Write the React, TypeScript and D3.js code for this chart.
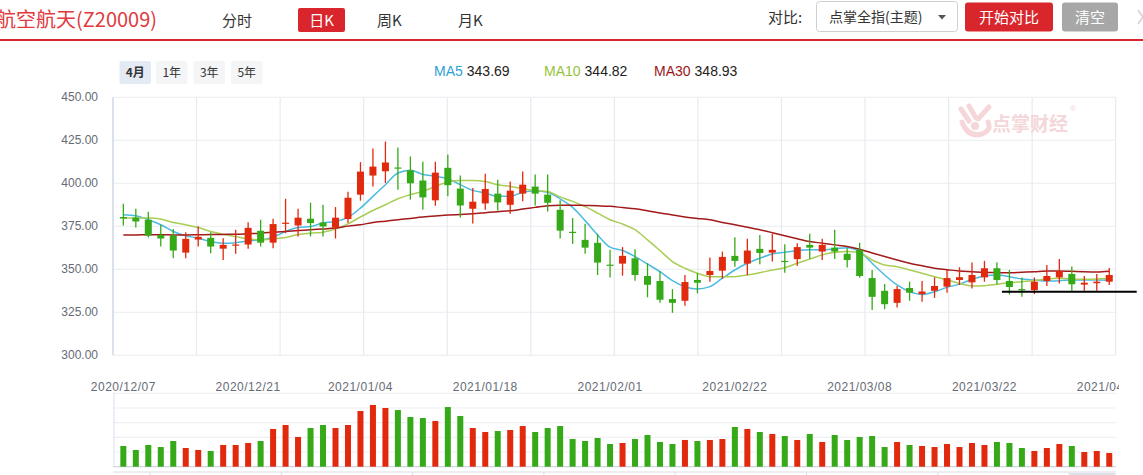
import React from 'react';
import * as d3 from 'd3';

const dates = [
  '2020/12/07','2020/12/08','2020/12/09','2020/12/10','2020/12/11','2020/12/14','2020/12/15','2020/12/16','2020/12/17','2020/12/18',
  '2020/12/21','2020/12/22','2020/12/23','2020/12/24','2020/12/25','2020/12/28','2020/12/29','2020/12/30','2020/12/31',
  '2021/01/04','2021/01/05','2021/01/06','2021/01/07','2021/01/08','2021/01/11','2021/01/12','2021/01/13','2021/01/14','2021/01/15',
  '2021/01/18','2021/01/19','2021/01/20','2021/01/21','2021/01/22','2021/01/25','2021/01/26','2021/01/27','2021/01/28','2021/01/29',
  '2021/02/01','2021/02/02','2021/02/03','2021/02/04','2021/02/05','2021/02/08','2021/02/09','2021/02/10','2021/02/18','2021/02/19',
  '2021/02/22','2021/02/23','2021/02/24','2021/02/25','2021/02/26','2021/03/01','2021/03/02','2021/03/03','2021/03/04','2021/03/05',
  '2021/03/08','2021/03/09','2021/03/10','2021/03/11','2021/03/12','2021/03/15','2021/03/16','2021/03/17','2021/03/18','2021/03/19',
  '2021/03/22','2021/03/23','2021/03/24','2021/03/25','2021/03/26','2021/03/29','2021/03/30','2021/03/31','2021/04/01','2021/04/02',
  '2021/04/06',
];

const openP = [
  380.4,380.0,378.8,370.0,369.6,359.7,367.3,368.3,362.0,364.0,
  364.4,372.4,365.5,376.5,375.5,379.4,377.2,374.3,379.2,393.4,
  404.5,407.0,409.2,407.6,401.6,390.1,409.0,396.9,385.2,388.3,
  394.0,387.5,394.0,398.1,393.4,384.6,371.8,367.1,365.4,352.7,
  353.3,356.4,346.1,343.2,332.7,331.7,343.8,346.7,349.2,357.8,
  353.3,361.9,359.7,354.9,355.9,364.2,360.3,362.6,359.0,361.3,
  344.9,337.5,330.5,339.1,335.6,337.5,339.9,343.8,342.4,345.3,
  350.6,343.2,338.5,337.9,343.2,345.3,347.3,341.1,341.9,342.8,
];
const closeP = [
  379.5,377.8,369.6,367.9,360.9,367.7,368.9,363.2,364.2,364.4,
  374.1,365.5,376.3,377.1,380.0,376.9,374.9,380.0,391.6,406.8,
  409.7,412.1,408.8,400.0,391.8,406.2,398.9,387.1,389.3,396.7,
  388.9,395.7,399.2,394.0,388.7,372.5,371.4,362.6,353.9,352.3,
  357.8,346.7,341.0,332.3,330.5,342.6,342.2,349.0,357.2,354.9,
  360.9,359.5,361.3,354.5,362.9,362.6,364.2,360.3,355.4,346.1,
  334.0,329.7,338.5,336.4,337.1,340.3,344.9,345.4,346.7,350.6,
  343.8,339.7,338.2,342.8,346.1,349.0,341.3,342.2,342.8,346.7,
];
const highP = [
  388.1,385.2,383.5,375.9,373.5,371.6,375.1,371.6,368.1,373.0,
  377.4,378.8,379.4,391.0,385.2,388.7,387.5,386.2,395.1,412.3,
  420.2,424.3,420.8,415.6,412.6,412.6,416.7,404.5,397.3,405.6,
  402.1,401.0,406.8,405.1,405.1,390.1,379.8,376.5,370.6,361.3,
  362.9,361.7,353.5,349.0,338.5,346.7,347.7,356.8,360.3,368.7,
  367.7,370.0,370.6,364.6,365.2,370.6,367.7,373.0,362.3,365.4,
  349.6,341.4,340.3,342.8,343.2,345.3,349.6,351.2,353.9,354.9,
  354.1,349.6,345.3,345.3,352.5,356.0,351.6,346.1,347.3,350.8,
];
const lowP = [
  375.5,374.3,368.5,363.2,356.4,356.4,363.2,359.4,355.4,359.0,
  361.9,363.2,362.3,371.0,369.1,369.1,369.1,367.9,376.9,389.9,
  398.1,400.2,396.3,390.5,384.6,387.0,392.4,380.1,376.6,384.6,
  384.2,382.3,389.5,387.1,383.6,367.9,364.8,359.0,346.7,345.3,
  346.3,343.4,333.7,330.5,324.7,328.8,336.0,342.8,344.5,351.5,
  346.7,352.9,354.5,348.0,352.1,356.0,355.4,356.0,351.0,345.1,
  326.3,326.8,327.8,331.7,331.1,333.4,336.4,340.9,338.9,342.8,
  341.3,335.4,334.0,335.6,340.3,341.8,337.5,337.5,337.5,340.9,
];
const volume = [
  28.2,22.8,29.6,26.8,35.0,25.5,22.8,21.4,29.6,29.6,
  32.3,35.0,51.4,56.8,40.5,52.7,56.8,52.7,56.8,75.9,
  84.1,80.0,77.2,67.7,66.3,62.3,81.3,69.1,52.7,47.3,
  48.6,50.0,55.4,47.3,52.7,55.4,37.7,35.0,39.1,30.9,
  32.3,37.7,43.2,33.7,30.9,36.4,35.0,36.4,37.7,54.1,
  51.4,47.3,44.6,41.8,36.4,44.6,33.7,43.2,36.4,40.5,
  41.8,26.8,33.7,29.6,28.2,26.8,30.9,26.8,32.3,29.6,
  33.7,32.3,25.5,21.4,25.5,30.9,28.2,20.0,21.4,18.7,
];
const ma5 = [
  381.7,381.1,378.8,375.9,372.0,369.5,368.1,366.1,365.2,365.5,
  366.5,367.1,368.7,372.0,374.3,374.9,376.9,377.8,380.2,385.6,
  392.4,399.2,406.0,407.6,405.1,404.1,402.6,399.2,395.9,394.4,
  392.4,392.4,394.8,395.7,394.8,391.0,386.0,378.3,370.0,362.9,
  360.9,357.4,353.1,348.6,343.4,339.9,338.5,339.9,344.8,349.6,
  353.5,356.4,358.9,359.9,360.9,361.3,361.3,361.9,362.6,360.3,
  353.5,346.7,340.9,337.0,335.4,337.0,339.5,341.4,344.2,346.1,
  346.7,345.7,344.4,343.8,343.2,343.4,343.8,343.8,343.8,343.69,
];
const ma10 = [
  379.8,379.8,379.8,379.2,377.2,375.9,374.3,372.0,370.4,369.0,
  367.7,367.1,367.7,368.5,370.2,371.0,371.6,373.4,376.4,380.4,
  384.2,387.5,391.0,393.4,395.3,398.2,400.8,401.6,401.6,401.0,
  399.2,398.2,396.9,395.7,395.3,392.1,389.5,386.4,382.7,378.8,
  376.3,373.0,367.1,360.9,354.5,350.6,347.7,345.7,345.7,345.7,
  346.7,348.0,349.6,350.9,353.5,355.9,358.4,359.7,360.3,359.5,
  355.4,352.5,351.5,349.6,347.7,345.7,343.8,341.8,340.3,340.5,
  341.3,342.2,342.8,343.4,344.4,344.8,344.4,344.2,344.4,344.82,
];
const ma30 = [
  370.0,370.0,370.1,370.1,370.0,370.0,370.1,370.2,370.3,370.4,
  370.7,371.0,371.5,372.0,372.5,373.0,373.5,374.0,375.1,375.9,
  377.2,378.0,378.8,379.6,380.4,381.0,381.5,381.9,382.3,382.9,
  383.5,384.0,385.0,386.0,387.0,387.3,387.3,387.1,386.9,386.6,
  385.9,385.2,384.0,382.7,381.6,380.4,379.6,378.8,377.2,375.9,
  374.5,373.0,371.3,369.5,367.8,366.1,365.2,364.2,363.3,361.7,
  359.5,357.4,355.4,353.5,352.0,350.6,349.8,349.0,348.6,348.2,
  348.1,348.0,348.3,348.6,349.0,349.0,348.8,348.6,348.5,348.93,
];

const priceTicks = [300, 325, 350, 375, 400, 425, 450];
const volTicks = [0, 20, 40, 60, 80, 100];
const dateTicks = ['2020/12/07','2020/12/21','2021/01/04','2021/01/18','2021/02/01','2021/02/22','2021/03/08','2021/03/22','2021/04/06'];
const legendNames = ['MA5', 'MA10', 'MA30'];
const legendValues = ['343.69', '344.82', '348.93'];
const rangeTabs = ['4月', '1年', '3年', '5年'];
const periodTabs = ['分时', '日K', '周K', '月K'];
const supportPrice = 336.9;
const supportFrom = 70.4;
const supportTo = 81.2;

const RED = '#e1290d';
const GREEN = '#35a918';
const BRAND = '#d9262c';
const MA_COLORS = ['#4cbbe2', '#a9cd55', '#a31a1a'];
const MA_TEXT = ['#2f9fd4', '#95c23a', '#9c1418'];
const CJK = '"Noto Sans CJK SC", "Noto Sans", sans-serif';
const NUM = '"Liberation Sans", Arial, sans-serif';
const AXIS_TXT = '#666b75';
const GRID = '#eef0f4';

export default function App() {
  const W = 1143, H = 475;
  const left = 113, right = 1115.7;
  const x = d3.scaleBand<string>().domain(dates).range([117.1, 1115.5]).padding(0);
  const bw = x.bandwidth();
  const cx = (i: number) => (x(dates[0]) as number) + bw / 2 + i * bw;
  const y = d3.scaleLinear().domain([300, 450]).range([355.3, 97.3]);
  const yv = d3.scaleLinear().domain([0, 100]).range([466.7, 393.3]);
  const mkLine = (arr: number[]) =>
    d3.line<number>().x((_, i) => cx(i)).y(d => y(d)).curve(d3.curveMonotoneX)(arr) || '';
  const vgrid = d3.range(13).map(k => left + (k * (right - left)) / 12);
  const sliderTicks = d3.range(8).map(k => 150 + k * 131.3);

  const periodX = [222, 298, 377, 458];
  const rangeX = [119.5, 156, 193.5, 231];
  const legendX = [434, 544, 654];

  return (
    <div style={{ position: 'absolute', left: 0, top: 0 }}>
      <svg width={W} height={H} style={{ display: 'block', background: '#fff' }}>
        <defs>
          <clipPath id="plotClip">
            <rect x={0} y={0} width={1119} height={H} />
          </clipPath>
        </defs>
        {/* Header */}
        <text x={-4} y={27} fontFamily={CJK} fontSize={20} fill="#e03a3e">航空航天(Z20009)</text>
        {periodTabs.map((t, i) => {
          const active = i === 1;
          return (
            <g key={t}>
              {active && <rect x={periodX[i]} y={8} width={47} height={24} rx={2} fill={BRAND} />}
              <text x={active ? periodX[i] + 23.5 : periodX[i]} y={25.5} textAnchor={active ? 'middle' : 'start'}
                fontFamily={CJK} fontSize={15} fill={active ? '#fff' : '#333'}>{t}</text>
            </g>
          );
        })}
        <text x={768} y={23} fontFamily={CJK} fontSize={15} fill="#333">对比:</text>
        <rect x={816.5} y={1.5} width={141} height={30} rx={3} fill="#fff" stroke="#cfcfcf" />
        <text x={829} y={22} fontFamily={CJK} fontSize={14} fill="#333">点掌全指(主题)</text>
        <path d="M938,15 L946,15 L942,19.5 Z" fill="#555" />
        <rect x={965} y={2.5} width={88} height={29} rx={3} fill={BRAND} />
        <text x={1009} y={23} textAnchor="middle" fontFamily={CJK} fontSize={15} fill="#fff">开始对比</text>
        <rect x={1062} y={2.5} width={56} height={29} rx={3} fill="#a7a7a7" />
        <text x={1090} y={23} textAnchor="middle" fontFamily={CJK} fontSize={15} fill="#fff">清空</text>
        <polyline points="1138,10 1143,17 1138,24" fill="none" stroke="#d0d0d0" strokeWidth={1.5} />
        <line x1={0} x2={W} y1={40} y2={40} stroke={BRAND} strokeWidth={2} />

        {/* range tabs */}
        {rangeTabs.map((t, i) => (
          <g key={t}>
            <rect x={rangeX[i]} y={61} width={31.5} height={23} rx={2} fill={i === 0 ? '#e4eaf4' : '#f4f5f7'} />
            <text x={rangeX[i] + 15.75} y={77} textAnchor="middle" fontFamily={CJK} fontSize={12}
              fontWeight={i === 0 ? 700 : 400} fill="#333">{t}</text>
          </g>
        ))}
        {/* legend */}
        {legendNames.map((n, i) => (
          <text key={n} x={legendX[i]} y={76} fontFamily={NUM} fontSize={14}>
            <tspan fill={MA_TEXT[i]}>{n}</tspan>
            <tspan fill="#222" dx={4}>{legendValues[i]}</tspan>
          </text>
        ))}

        {/* main grid */}
        {priceTicks.map(p => (
          <line key={p} x1={left} x2={right} y1={y(p)} y2={y(p)} stroke={GRID} strokeWidth={1.2} />
        ))}
        {vgrid.map((gx, k) => (
          <line key={k} x1={gx} x2={gx} y1={y(450)} y2={y(300)} stroke="#e6eaf1" strokeWidth={1.2} />
        ))}
        <line x1={left} x2={left} y1={y(450)} y2={y(300)} stroke="#cdd5e4" strokeWidth={1.2} />
        {priceTicks.map(p => (
          <text key={p} x={98} y={y(p) + 4} textAnchor="end" fontFamily={NUM} fontSize={12} fill={AXIS_TXT}>
            {p.toFixed(2)}
          </text>
        ))}

        {/* watermark */}
        <g opacity={0.9}>
          <path d="M962,122 Q968,138 982,134 Q992,130 988,122" fill="none" stroke="#f4d3d5" strokeWidth={5} strokeLinecap="round" />
          <line x1={961} x2={969} y1={109} y2={121} stroke="#f4d3d5" strokeWidth={5} strokeLinecap="round" />
          <line x1={969} x2={976} y1={106} y2={118} stroke="#f4d3d5" strokeWidth={5} strokeLinecap="round" />
          <line x1={989} x2={978} y1={107} y2={119} stroke="#f4d3d5" strokeWidth={5} strokeLinecap="round" />
          <circle cx={975} cy={126} r={4} fill="#f4d3d5" />
          <text x={992} y={131} fontFamily={CJK} fontSize={19} fontWeight={700} fill="#f4d3d5">点掌财经</text>
          <text x={1070} y={111} fontFamily={NUM} fontSize={8} fill="#f4d3d5">®</text>
        </g>

        {/* MA lines */}
        {[ma5, ma10, ma30].map((arr, k) => (
          <path key={k} d={mkLine(arr)} fill="none" stroke={MA_COLORS[k]} strokeWidth={1.5} />
        ))}

        {/* candles */}
        {dates.map((d, i) => {
          const up = closeP[i] >= openP[i];
          const c = up ? RED : GREEN;
          const top = y(Math.max(openP[i], closeP[i]));
          const bot = y(Math.min(openP[i], closeP[i]));
          const bodyW = 7;
          return (
            <g key={d}>
              <line x1={cx(i)} x2={cx(i)} y1={y(highP[i])} y2={y(lowP[i])} stroke={c} strokeWidth={1.3} />
              <rect x={cx(i) - bodyW / 2} y={top} width={bodyW} height={Math.max(1.2, bot - top)} fill={c} />
            </g>
          );
        })}

        {/* support line annotation */}
        <line x1={cx(supportFrom)} x2={cx(supportTo)} y1={y(supportPrice)} y2={y(supportPrice)} stroke="#000" strokeWidth={2} />

        {/* date labels */}
        <g clipPath="url(#plotClip)">
          {dateTicks.map(t => (
            <text key={t} x={(x(t) as number) + bw / 2} y={391} textAnchor="middle" fontFamily={NUM}
              fontSize={12} letterSpacing={0.5} fill={AXIS_TXT}>{t}</text>
          ))}
        </g>

        {/* volume panel */}
        {volTicks.map(v => (
          <line key={v} x1={left} x2={right} y1={yv(v)} y2={yv(v)} stroke={v === 0 ? '#cdd5e4' : GRID} strokeWidth={1.2} />
        ))}
        <line x1={left + 1} x2={left + 1} y1={yv(100)} y2={yv(0)} stroke="#dfe4ee" strokeWidth={1.2} />
        {dates.map((d, i) => (
          <rect key={d} x={cx(i) - 3} y={yv(volume[i])} width={6} height={yv(0) - yv(volume[i])}
            fill={closeP[i] >= openP[i] ? RED : GREEN} />
        ))}
        <line x1={left} x2={right} y1={472} y2={472} stroke="#d8dce3" strokeWidth={1} />
        {sliderTicks.map((t, k) => (
          <line key={k} x1={t} x2={t} y1={472} y2={475} stroke="#d8dce3" strokeWidth={1} />
        ))}
        <rect x={1070} y={473} width={45.7} height={2} fill="#dde2ea" />
      </svg>
    </div>
  );
}
